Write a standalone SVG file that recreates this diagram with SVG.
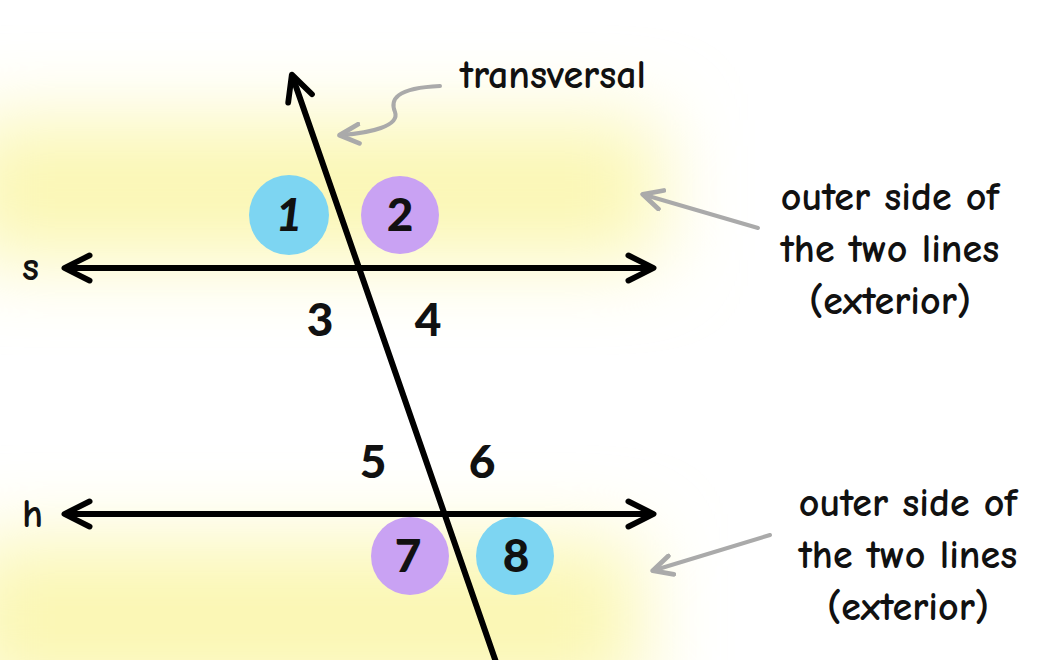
<svg xmlns="http://www.w3.org/2000/svg" width="1050" height="660" viewBox="0 0 1050 660">
<defs>
<filter id="blur" x="-50%" y="-50%" width="200%" height="200%"><feGaussianBlur stdDeviation="40"/></filter>
<marker id="ga" viewBox="0 0 10 10" refX="8" refY="5" markerWidth="6" markerHeight="6" orient="auto-start-reverse"><path d="M1,1 L9,5 L1,9" fill="none" stroke="#aaa" stroke-width="2" stroke-linecap="round" stroke-linejoin="round"/></marker>
<marker id="ba" viewBox="0 0 10 10" refX="8" refY="5" markerWidth="6" markerHeight="6" orient="auto-start-reverse"><path d="M2,1.5 L9,5 L2,8.5" fill="none" stroke="#000" stroke-width="1.6" stroke-linecap="round" stroke-linejoin="round"/></marker>
<style>
.t{font-family:"Comic Neue","Lato","Noto Sans",sans-serif;font-size:40px;font-weight:600;fill:#111}
.n{font-family:"Lato","Noto Sans",sans-serif;font-size:46px;font-weight:900;fill:#111;text-anchor:middle}
.ln{stroke:#000;stroke-width:6;fill:none;stroke-linecap:round}
.g{stroke:#aaa;stroke-width:4;fill:none;stroke-linecap:round}
</style>
</defs>
<rect width="1050" height="660" fill="#fff"/>
<g filter="url(#blur)" fill="#fbf7b4">
<rect x="-40" y="120" width="700" height="140"/>
<rect x="-40" y="540" width="680" height="160"/>
</g>
<g id="circle1"><circle cx="289" cy="215" r="40" fill="#7dd5f2"/><text class="n" x="289" y="231" font-style="italic">1</text></g>
<g id="circle2"><circle cx="400" cy="215" r="39" fill="#c9a2f3"/><text class="n" x="400" y="231">2</text></g>
<g id="circle7"><circle cx="410" cy="556" r="39" fill="#c9a2f3"/><text class="n" x="408" y="572">7</text></g>
<g id="circle8"><circle cx="515" cy="556" r="39" fill="#7dd5f2"/><text class="n" x="516" y="572">8</text></g>
<g id="connectors">
<line class="ln" x1="68" y1="268" x2="650" y2="268" marker-start="url(#ba)" marker-end="url(#ba)"/>
<line class="ln" x1="68" y1="514" x2="650" y2="514" marker-start="url(#ba)" marker-end="url(#ba)"/>
<line class="ln" x1="293" y1="78" x2="497" y2="665" marker-start="url(#ba)"/>
<path class="g" d="M440,86 C395,88 390,100 395,112 C400,126 370,133 342,135" marker-end="url(#ga)"/>
<line class="g" x1="758" y1="228" x2="645" y2="195" marker-end="url(#ga)"/>
<line class="g" x1="770" y1="535" x2="655" y2="570" marker-end="url(#ga)"/>
</g>
<g id="labels">
<text class="t" x="460" y="88">transversal</text>
<text class="t" x="22" y="280">s</text>
<text class="t" x="22" y="527">h</text>
<text class="n" x="320" y="336">3</text>
<text class="n" x="428" y="336">4</text>
<text class="n" x="373" y="478">5</text>
<text class="n" x="482" y="478">6</text>
<text class="t" text-anchor="middle" x="890" y="210">outer side of</text>
<text class="t" text-anchor="middle" x="890" y="262">the two lines</text>
<text class="t" text-anchor="middle" x="890" y="314">(exterior)</text>
<text class="t" text-anchor="middle" x="908" y="516">outer side of</text>
<text class="t" text-anchor="middle" x="908" y="568">the two lines</text>
<text class="t" text-anchor="middle" x="908" y="620">(exterior)</text>
</g>
</svg>
